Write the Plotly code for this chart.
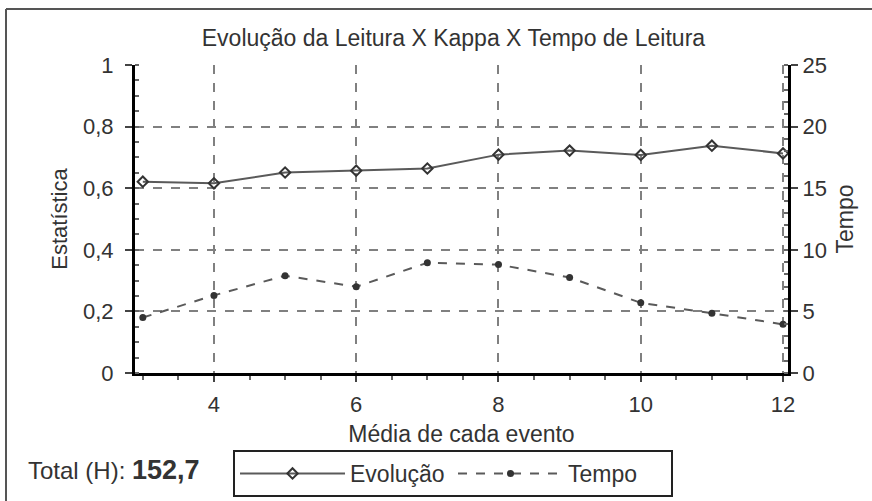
import plotly.graph_objects as go

eventos = [3, 4, 5, 6, 7, 8, 9, 10, 11, 12]
evolucao = [0.621, 0.616, 0.651, 0.657, 0.664, 0.709, 0.722, 0.708, 0.738, 0.713]
tempo = [4.5, 6.3, 7.9, 7.0, 8.95, 8.8, 7.75, 5.7, 4.85, 3.95]

titulo = "Evolução da Leitura X Kappa X Tempo de Leitura"
x_titulo = "Média de cada evento"
y_titulo = "Estatística"
y2_titulo = "Tempo"
total_label = "Total (H):"
total_valor = "152,7"

FONT = "Liberation Sans, Arial, sans-serif"
TXT = "#333333"
fig = go.Figure()

fig.add_trace(go.Scatter(
    x=eventos, y=evolucao, name="Evolução", mode="lines+markers",
    line=dict(color="#5a5a5a", width=2),
    marker=dict(symbol="diamond-open", size=8, color="#333333", line=dict(width=2)),
    yaxis="y"))
fig.add_trace(go.Scatter(
    x=eventos, y=tempo, name="Tempo", mode="lines+markers",
    line=dict(color="#5a5a5a", width=2, dash="dash"),
    marker=dict(symbol="circle", size=7, color="#333333"),
    yaxis="y2"))

fig.update_layout(
    width=872, height=501,
    margin=dict(l=135, r=84, t=65, b=128, autoexpand=False),
    paper_bgcolor="white", plot_bgcolor="white",
    separators=",.",
    font=dict(family=FONT, size=22, color=TXT),
    title=dict(text=titulo, x=0.52, xanchor="center", y=0.925, yanchor="middle",
               font=dict(size=23, color=TXT)),
    xaxis=dict(range=[2.89, 12.07], tick0=0, dtick=2, showgrid=True, automargin=False,
               gridcolor="#808080", griddash="dash", gridwidth=1.5,
               showline=True, linecolor="black", linewidth=3,
               ticks="outside", ticklen=6, tickcolor="#444444", tickwidth=1.5,
               ticklabelstandoff=4,
               minor=dict(dtick=0.5, tick0=0, ticks="outside", ticklen=4,
                          tickcolor="#666666", showgrid=False),
               title=dict(text=x_titulo, standoff=10, font=dict(size=23)),
               tickfont=dict(size=22), zeroline=False),
    yaxis=dict(range=[0, 1], dtick=0.2, showgrid=True, automargin=False,
               gridcolor="#808080", griddash="dash", gridwidth=1.5,
               showline=True, linecolor="black", linewidth=3,
               ticks="outside", ticklen=7, tickcolor="#444444", tickwidth=1.5,
               ticklabelstandoff=7,
               minor=dict(dtick=0.05, ticks="inside", ticklen=4,
                          tickcolor="#666666", showgrid=False),
               title=dict(text=y_titulo, standoff=10, font=dict(size=22)),
               tickfont=dict(size=22), zeroline=False),
    yaxis2=dict(range=[0, 25], dtick=5, overlaying="y", side="right", showgrid=False,
                automargin=False,
                showline=True, linecolor="black", linewidth=3,
                ticks="outside", ticklen=7, tickcolor="#444444", tickwidth=1.5,
                minor=dict(dtick=1, ticks="inside", ticklen=4, tickcolor="#666666"),
                title=dict(text=y2_titulo, standoff=12, font=dict(size=23)),
                tickfont=dict(size=22), zeroline=False),
    legend=dict(orientation="h", x=0.487, xanchor="center", y=-0.25, yanchor="top",
                bordercolor="#222222", borderwidth=2, bgcolor="white",
                font=dict(size=23, color=TXT), entrywidth=98, itemwidth=105),
    showlegend=True,
)

fig.add_annotation(
    text=f"{total_label} <b><span style='font-size:27px'>{total_valor}</span></b>",
    xref="paper", yref="paper",
    x=(26 - 135) / 653, y=(373 - 470) / 308, xanchor="left", yanchor="middle",
    showarrow=False, font=dict(size=24, color=TXT))

# outer frame lines (top and left)
fig.add_shape(type="line", xref="paper", yref="paper",
              x0=(6 - 135) / 653, x1=(872 - 135) / 653, y0=(373 - 9) / 308, y1=(373 - 9) / 308,
              line=dict(color="#555555", width=2))
fig.add_shape(type="line", xref="paper", yref="paper",
              x0=(6 - 135) / 653, x1=(6 - 135) / 653, y0=(373 - 9) / 308, y1=(373 - 501) / 308,
              line=dict(color="#555555", width=2))

fig.write_html("out.html", config={"displayModeBar": False},
               post_script="document.body.style.margin='0';")
